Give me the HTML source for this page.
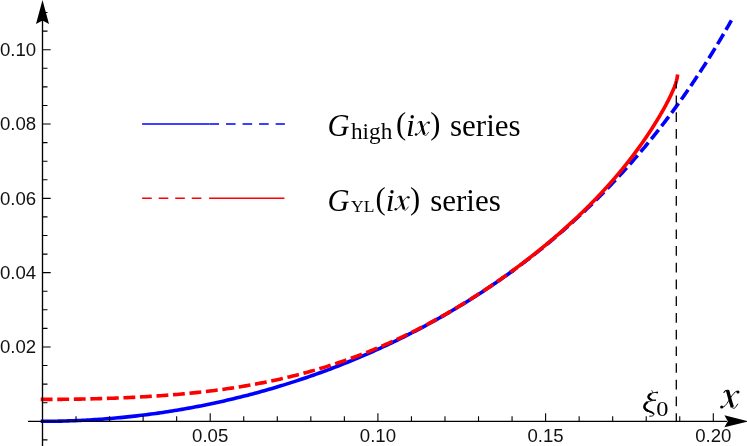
<!DOCTYPE html>
<html><head><meta charset="utf-8"><title>plot</title>
<style>
html,body{margin:0;padding:0;background:#fff;}
body{width:747px;height:446px;overflow:hidden;}
svg{display:block;will-change:transform;}
.tl text{font-family:"Liberation Sans",sans-serif;font-size:18.6px;fill:#111;}
.lg{font-family:"Liberation Serif",serif;fill:#000;}
.it{font-style:italic;}
</style></head><body>
<svg width="747" height="446" viewBox="0 0 747 446">
<rect width="747" height="446" fill="#fff"/>
<g fill="none" stroke-width="3.6" stroke-linecap="square" stroke-linejoin="round">
<path d="M42.50,421.30 L44.86,421.30 L47.22,421.29 L49.58,421.27 L51.94,421.25 L54.30,421.22 L56.66,421.18 L59.02,421.13 L61.38,421.08 L63.74,421.03 L66.10,420.96 L68.46,420.89 L70.82,420.81 L73.17,420.73 L75.53,420.63 L77.89,420.54 L80.25,420.43 L82.61,420.32 L84.97,420.20 L87.33,420.07 L89.69,419.94 L92.05,419.80 L94.41,419.66 L96.77,419.50 L99.13,419.34 L101.49,419.18 L103.85,419.00 L106.21,418.82 L108.57,418.63 L110.93,418.44 L113.29,418.24 L115.65,418.03 L118.01,417.82 L120.37,417.60 L122.73,417.37 L125.09,417.13 L127.45,416.89 L129.81,416.64 L132.16,416.38 L134.52,416.12 L136.88,415.85 L139.24,415.57 L141.60,415.29 L143.96,415.00 L146.32,414.70 L148.68,414.40 L151.04,414.08 L153.40,413.77 L155.76,413.44 L158.12,413.11 L160.48,412.77 L162.84,412.42 L165.20,412.07 L167.56,411.71 L169.92,411.34 L172.28,410.96 L174.64,410.58 L177.00,410.19 L179.36,409.80 L181.72,409.39 L184.08,408.98 L186.44,408.56 L188.80,408.14 L191.15,407.71 L193.51,407.27 L195.87,406.82 L198.23,406.37 L200.59,405.91 L202.95,405.44 L205.31,404.97 L207.67,404.48 L210.03,403.99 L212.39,403.50 L214.75,402.99 L217.11,402.48 L219.47,401.96 L221.83,401.44 L224.19,400.90 L226.55,400.36 L228.91,399.81 L231.27,399.26 L233.63,398.69 L235.99,398.12 L238.35,397.55 L240.71,396.96 L243.07,396.37 L245.43,395.77 L247.79,395.16 L250.14,394.54 L252.50,393.92 L254.86,393.29 L257.22,392.65 L259.58,392.00 L261.94,391.35 L264.30,390.69 L266.66,390.02 L269.02,389.34 L271.38,388.66 L273.74,387.97 L276.10,387.27 L278.46,386.56 L280.82,385.84 L283.18,385.12 L285.54,384.39 L287.90,383.65 L290.26,382.90 L292.62,382.14 L294.98,381.38 L297.34,380.61 L299.70,379.83 L302.06,379.04 L304.42,378.25 L306.77,377.44 L309.13,376.63 L311.49,375.81 L313.85,374.98 L316.21,374.14 L318.57,373.30 L320.93,372.45 L323.29,371.58 L325.65,370.71 L328.01,369.84 L330.37,368.95 L332.73,368.05 L335.09,367.15 L337.45,366.24 L339.81,365.31 L342.17,364.38 L344.53,363.45 L346.89,362.50 L349.25,361.54 L351.61,360.58 L353.97,359.60 L356.33,358.62 L358.69,357.63 L361.05,356.63 L363.41,355.62 L365.76,354.60 L368.12,353.57 L370.48,352.54 L372.84,351.49 L375.20,350.43 L377.56,349.37 L379.92,348.30 L382.28,347.21 L384.64,346.12 L387.00,345.02 L389.36,343.91 L391.72,342.78 L394.08,341.65 L396.44,340.51 L398.80,339.36 L401.16,338.20 L403.52,337.03 L405.88,335.85 L408.24,334.66 L410.60,333.46 L412.96,332.25 L415.32,331.03 L417.68,329.80 L420.04,328.56 L422.40,327.31 L424.75,326.05 L427.11,324.77 L429.47,323.49 L431.83,322.20 L434.19,320.89 L436.55,319.58 L438.91,318.25 L441.27,316.91 L443.63,315.57 L445.99,314.21 L448.35,312.84 L450.71,311.46 L453.07,310.06 L455.43,308.66 L457.79,307.24 L460.15,305.81 L462.51,304.38 L464.87,302.92 L467.23,301.46 L469.59,299.99 L471.95,298.50 L474.31,297.00 L476.67,295.49 L479.03,293.97 L481.39,292.43 L483.74,290.88 L486.10,289.32 L488.46,287.74 L490.82,286.16 L493.18,284.56 L495.54,282.94 L497.90,281.32 L500.26,279.68 L502.62,278.02 L504.98,276.35 L507.34,274.67 L509.70,272.98 L512.06,271.27" stroke="#0000ff"/>
<path d="M512.06,271.27 L513.16,270.47 L514.26,269.67 L515.35,268.86 L516.45,268.05 L517.55,267.24 L518.65,266.42 L519.74,265.60 L520.84,264.78 L521.94,263.96 L523.04,263.13 L524.13,262.30 L525.23,261.46 L526.33,260.62 L527.43,259.78 L528.53,258.94 L529.62,258.09 L530.72,257.24 L531.82,256.39 L532.92,255.53 L534.01,254.67 L535.11,253.80 L536.21,252.94 L537.31,252.06 L538.41,251.19 L539.50,250.31 L540.60,249.43 L541.70,248.55 L542.80,247.66 L543.89,246.76 L544.99,245.87 L546.09,244.97 L547.19,244.07 L548.28,243.16 L549.38,242.25 L550.48,241.34 L551.58,240.42 L552.68,239.50 L553.77,238.58 L554.87,237.65 L555.97,236.72 L557.07,235.78 L558.16,234.84 L559.26,233.90 L560.36,232.95 L561.46,232.00 L562.56,231.05 L563.65,230.09 L564.75,229.13 L565.85,228.16 L566.95,227.19 L568.04,226.22 L569.14,225.24 L570.24,224.26 L571.34,223.27 L572.43,222.29 L573.53,221.29 L574.63,220.29 L575.73,219.29 L576.83,218.29 L577.92,217.28 L579.02,216.26 L580.12,215.24 L581.22,214.22 L582.31,213.19 L583.41,212.16 L584.51,211.13 L585.61,210.09 L586.70,209.04 L587.80,208.00 L588.90,206.94 L590.00,205.89 L591.10,204.83 L592.19,203.76 L593.29,202.69 L594.39,201.61 L595.49,200.53 L596.58,199.45 L597.68,198.36 L598.78,197.27 L599.88,196.17 L600.98,195.07 L602.07,193.96 L603.17,192.85 L604.27,191.73 L605.37,190.61 L606.46,189.49 L607.56,188.36 L608.66,187.22 L609.76,186.08 L610.85,184.93 L611.95,183.78 L613.05,182.63 L614.15,181.47 L615.25,180.30 L616.34,179.13 L617.44,177.95 L618.54,176.77 L619.64,175.59 L620.73,174.40 L621.83,173.20 L622.93,172.00 L624.03,170.79 L625.13,169.58 L626.22,168.36 L627.32,167.14 L628.42,165.91 L629.52,164.68 L630.61,163.44 L631.71,162.19 L632.81,160.94 L633.91,159.68 L635.00,158.42 L636.10,157.15 L637.20,155.88 L638.30,154.60 L639.40,153.32 L640.49,152.03 L641.59,150.73 L642.69,149.43 L643.79,148.12 L644.88,146.80 L645.98,145.48 L647.08,144.16 L648.18,142.82 L649.27,141.49 L650.37,140.14 L651.47,138.79 L652.57,137.43 L653.67,136.07 L654.76,134.70 L655.86,133.32 L656.96,131.94 L658.06,130.55 L659.15,129.15 L660.25,127.75 L661.35,126.34 L662.45,124.92 L663.55,123.50 L664.64,122.07 L665.74,120.64 L666.84,119.19 L667.94,117.74 L669.03,116.29 L670.13,114.82 L671.23,113.35 L672.33,111.87 L673.42,110.39 L674.52,108.90 L675.62,107.40 L676.72,105.89 L677.82,104.37 L678.91,102.85 L680.01,101.32 L681.11,99.79 L682.21,98.24 L683.30,96.69 L684.40,95.13 L685.50,93.56 L686.60,91.99 L687.69,90.41 L688.79,88.82 L689.89,87.22 L690.99,85.61 L692.09,84.00 L693.18,82.37 L694.28,80.74 L695.38,79.10 L696.48,77.45 L697.57,75.80 L698.67,74.13 L699.77,72.46 L700.87,70.78 L701.97,69.09 L703.06,67.39 L704.16,65.69 L705.26,63.97 L706.36,62.24 L707.45,60.51 L708.55,58.77 L709.65,57.02 L710.75,55.26 L711.84,53.49 L712.94,51.71 L714.04,49.92 L715.14,48.12 L716.24,46.31 L717.33,44.50 L718.43,42.67 L719.53,40.83 L720.63,38.99 L721.72,37.13 L722.82,35.27 L723.92,33.39 L725.02,31.50 L726.12,29.61 L727.21,27.70 L728.31,25.79 L729.41,23.86 L730.51,21.92" stroke="#0000ff" stroke-dasharray="8.275 8.275" stroke-dashoffset="4.3"/>
<path d="M42.50,399.41 L44.86,399.41 L47.22,399.41 L49.58,399.40 L51.94,399.39 L54.30,399.38 L56.66,399.37 L59.02,399.35 L61.38,399.33 L63.74,399.31 L66.10,399.29 L68.46,399.26 L70.82,399.23 L73.17,399.20 L75.53,399.16 L77.89,399.12 L80.25,399.08 L82.61,399.04 L84.97,398.99 L87.33,398.94 L89.69,398.89 L92.05,398.84 L94.41,398.78 L96.77,398.72 L99.13,398.65 L101.49,398.58 L103.85,398.51 L106.21,398.44 L108.57,398.36 L110.93,398.28 L113.29,398.20 L115.65,398.11 L118.01,398.02 L120.37,397.93 L122.73,397.83 L125.09,397.73 L127.45,397.62 L129.81,397.52 L132.16,397.40 L134.52,397.29 L136.88,397.17 L139.24,397.04 L141.60,396.91 L143.96,396.78 L146.32,396.64 L148.68,396.50 L151.04,396.36 L153.40,396.21 L155.76,396.05 L158.12,395.89 L160.48,395.73 L162.84,395.56 L165.20,395.38 L167.56,395.20 L169.92,395.02 L172.28,394.83 L174.64,394.64 L177.00,394.44 L179.36,394.23 L181.72,394.02 L184.08,393.80 L186.44,393.58 L188.80,393.35 L191.15,393.12 L193.51,392.88 L195.87,392.63 L198.23,392.38 L200.59,392.12 L202.95,391.86 L205.31,391.58 L207.67,391.31 L210.03,391.02 L212.39,390.73 L214.75,390.43 L217.11,390.13 L219.47,389.81 L221.83,389.50 L224.19,389.17 L226.55,388.83 L228.91,388.49 L231.27,388.14 L233.63,387.79 L235.99,387.42 L238.35,387.05 L240.71,386.67 L243.07,386.28 L245.43,385.88 L247.79,385.48 L250.14,385.07 L252.50,384.65 L254.86,384.21 L257.22,383.78 L259.58,383.33 L261.94,382.87 L264.30,382.41 L266.66,381.93 L269.02,381.45 L271.38,380.96 L273.74,380.45 L276.10,379.94 L278.46,379.42 L280.82,378.89 L283.18,378.35 L285.54,377.80 L287.90,377.24 L290.26,376.67 L292.62,376.09 L294.98,375.50 L297.34,374.90 L299.70,374.29 L302.06,373.67 L304.42,373.04 L306.77,372.40 L309.13,371.75 L311.49,371.09 L313.85,370.41 L316.21,369.73 L318.57,369.03 L320.93,368.33 L323.29,367.61 L325.65,366.88 L328.01,366.14 L330.37,365.39 L332.73,364.63 L335.09,363.86 L337.45,363.08 L339.81,362.28 L342.17,361.47 L344.53,360.65 L346.89,359.82 L349.25,358.98 L351.61,358.13 L353.97,357.26 L356.33,356.38 L358.69,355.50 L361.05,354.59 L363.41,353.68 L365.76,352.76 L368.12,351.82 L370.48,350.87 L372.84,349.91 L375.20,348.94 L377.56,347.95 L379.92,346.95 L382.28,345.94 L384.64,344.92 L387.00,343.89 L389.36,342.84 L391.72,341.78 L394.08,340.71 L396.44,339.63 L398.80,338.53 L401.16,337.42 L403.52,336.30 L405.88,335.17 L408.24,334.02 L410.60,332.87 L412.96,331.70 L415.32,330.51 L417.68,329.32 L420.04,328.11 L422.40,326.89 L424.75,325.66 L427.11,324.41 L429.47,323.15 L431.83,321.88 L434.19,320.60 L436.55,319.30 L438.91,317.99 L441.27,316.67 L443.63,315.34 L445.99,313.99 L448.35,312.63 L450.71,311.26 L453.07,309.88 L455.43,308.48 L457.79,307.07 L460.15,305.65 L462.51,304.21 L464.87,302.77 L467.23,301.31 L469.59,299.83 L471.95,298.35 L474.31,296.85 L476.67,295.33 L479.03,293.81 L481.39,292.27 L483.74,290.72 L486.10,289.15 L488.46,287.58 L490.82,285.98 L493.18,284.38 L495.54,282.76 L497.90,281.13 L500.26,279.48 L502.62,277.82 L504.98,276.15 L507.34,274.47 L509.70,272.76 L512.06,271.05" stroke="#ff0000" stroke-dasharray="8.275 8.275"/>
<path d="M512.06,271.05 L512.61,270.64 L513.17,270.24 L513.72,269.83 L514.27,269.43 L514.83,269.02 L515.38,268.61 L515.94,268.20 L516.49,267.79 L517.04,267.38 L517.60,266.97 L518.15,266.56 L518.70,266.14 L519.26,265.73 L519.81,265.31 L520.37,264.90 L520.92,264.48 L521.47,264.06 L522.03,263.64 L522.58,263.23 L523.13,262.81 L523.69,262.38 L524.24,261.96 L524.79,261.54 L525.35,261.12 L525.90,260.69 L526.46,260.27 L527.01,259.84 L527.56,259.42 L528.12,258.99 L528.67,258.56 L529.22,258.13 L529.78,257.70 L530.33,257.27 L530.89,256.84 L531.44,256.40 L531.99,255.97 L532.55,255.54 L533.10,255.10 L533.65,254.66 L534.21,254.23 L534.76,253.79 L535.31,253.35 L535.87,252.91 L536.42,252.47 L536.98,252.03 L537.53,251.58 L538.08,251.14 L538.64,250.70 L539.19,250.25 L539.74,249.81 L540.30,249.36 L540.85,248.91 L541.40,248.46 L541.96,248.01 L542.51,247.56 L543.07,247.11 L543.62,246.65 L544.17,246.20 L544.73,245.75 L545.28,245.29 L545.83,244.83 L546.39,244.38 L546.94,243.92 L547.50,243.46 L548.05,243.00 L548.60,242.53 L549.16,242.07 L549.71,241.61 L550.26,241.14 L550.82,240.68 L551.37,240.21 L551.92,239.74 L552.48,239.27 L553.03,238.80 L553.59,238.33 L554.14,237.86 L554.69,237.39 L555.25,236.91 L555.80,236.44 L556.35,235.96 L556.91,235.48 L557.46,235.01 L558.02,234.53 L558.57,234.05 L559.12,233.56 L559.68,233.08 L560.23,232.60 L560.78,232.11 L561.34,231.63 L561.89,231.14 L562.44,230.65 L563.00,230.16 L563.55,229.67 L564.11,229.18 L564.66,228.68 L565.21,228.19 L565.77,227.69 L566.32,227.20 L566.87,226.70 L567.43,226.20 L567.98,225.70 L568.54,225.20 L569.09,224.70 L569.64,224.19 L570.20,223.69 L570.75,223.18 L571.30,222.67 L571.86,222.16 L572.41,221.65 L572.96,221.14 L573.52,220.63 L574.07,220.12 L574.63,219.60 L575.18,219.08 L575.73,218.57 L576.29,218.05 L576.84,217.53 L577.39,217.00 L577.95,216.48 L578.50,215.96 L579.06,215.43 L579.61,214.90 L580.16,214.37 L580.72,213.84 L581.27,213.31 L581.82,212.78 L582.38,212.24 L582.93,211.71 L583.48,211.17 L584.04,210.63 L584.59,210.09 L585.15,209.55 L585.70,209.00 L586.25,208.46 L586.81,207.91 L587.36,207.36 L587.91,206.81 L588.47,206.26 L589.02,205.71 L589.58,205.16 L590.13,204.60 L590.68,204.04 L591.24,203.48 L591.79,202.92 L592.34,202.36 L592.90,201.80 L593.45,201.23 L594.00,200.66 L594.56,200.09 L595.11,199.52 L595.67,198.95 L596.22,198.38 L596.77,197.80 L597.33,197.22 L597.88,196.64 L598.43,196.06 L598.99,195.48 L599.54,194.89 L600.09,194.31 L600.65,193.72 L601.20,193.13 L601.76,192.54 L602.31,191.94 L602.86,191.35 L603.42,190.75 L603.97,190.15 L604.52,189.55 L605.08,188.94 L605.63,188.34 L606.19,187.73 L606.74,187.12 L607.29,186.51 L607.85,185.89 L608.40,185.28 L608.95,184.66 L609.51,184.04 L610.06,183.42 L610.61,182.79 L611.17,182.17 L611.72,181.54 L612.28,180.91 L612.83,180.27 L613.38,179.64 L613.94,179.00 L614.49,178.36 L615.04,177.72 L615.60,177.08 L616.15,176.43 L616.71,175.78 L617.26,175.13 L617.81,174.47 L618.37,173.82 L618.92,173.16 L619.47,172.50 L620.03,171.83 L620.58,171.17 L621.13,170.50 L621.69,169.83 L622.24,169.16 L622.80,168.48 L623.35,167.80 L623.90,167.12 L624.46,166.43 L625.01,165.75 L625.56,165.06 L626.12,164.37 L626.67,163.67 L627.23,162.97 L627.78,162.27 L628.33,161.57 L628.89,160.86 L629.44,160.15 L629.99,159.44 L630.55,158.73 L631.10,158.01 L631.65,157.29 L632.21,156.56 L632.76,155.84 L633.32,155.11 L633.87,154.37 L634.42,153.64 L634.98,152.90 L635.53,152.15 L636.08,151.41 L636.64,150.66 L637.19,149.91 L637.75,149.15 L638.30,148.39 L638.85,147.63 L639.41,146.86 L639.96,146.09 L640.51,145.32 L641.07,144.54 L641.62,143.76 L642.17,142.98 L642.73,142.19 L643.28,141.40 L643.84,140.60 L644.39,139.80 L644.94,139.00 L645.50,138.19 L646.05,137.38 L646.60,136.56 L647.16,135.74 L647.71,134.92 L648.27,134.09 L648.82,133.26 L649.37,132.42 L649.93,131.58 L650.48,130.74 L651.03,129.89 L651.59,129.03 L652.14,128.17 L652.69,127.31 L653.25,126.44 L653.80,125.57 L654.36,124.69 L654.91,123.80 L655.46,122.91 L656.02,122.02 L656.57,121.12 L657.12,120.21 L657.68,119.30 L658.23,118.38 L658.78,117.46 L659.34,116.53 L659.89,115.59 L660.45,114.65 L661.00,113.70 L661.55,112.74 L662.11,111.78 L662.66,110.81 L663.21,109.83 L663.77,108.84 L664.32,107.84 L664.88,106.84 L665.43,105.82 L665.98,104.80 L666.54,103.76 L667.09,102.71 L667.64,101.65 L668.20,100.58 L668.75,99.49 L669.30,98.38 L669.86,97.26 L670.41,96.12 L670.97,94.96 L671.52,93.77 L672.07,92.56 L672.63,91.31 L673.18,90.03 L673.73,88.70 L674.29,87.31 L674.84,85.85 L675.40,84.29 L675.95,82.60 L676.50,80.70 L677.06,78.41 L677.61,74.61" stroke="#ff0000" stroke-linecap="butt"/>
</g>
<!-- legend lines -->
<g fill="none" stroke-width="1.35" stroke-linecap="butt">
<path d="M142.1,124 H209.4" stroke="#0000ff"/>
<path d="M210.1,124 H284.2" stroke="#0000ff" stroke-dasharray="8.275 8.275" stroke-linecap="square"/>
<path d="M142.8,198.2 H208.5" stroke="#ff0000" stroke-dasharray="8.275 8.275" stroke-linecap="square"/>
<path d="M209.1,198.2 H284.4" stroke="#ff0000"/>
</g>
<!-- xi0 dashed line -->
<path d="M676.3,81.3 V421.3" fill="none" stroke="#000" stroke-width="1.3" stroke-dasharray="9.7 7.02" stroke-dashoffset="2.4"/>
<!-- axes -->
<g fill="none" stroke="#000" stroke-width="1.35">
<path d="M28,421.3 H727"/>
<path d="M42.5,446 V20"/>
<path d="M76.04,421.3 v-5 M109.58,421.3 v-5 M143.12,421.3 v-5 M176.66,421.3 v-5 M210.20,421.3 v-8 M243.74,421.3 v-5 M277.28,421.3 v-5 M310.82,421.3 v-5 M344.36,421.3 v-5 M377.90,421.3 v-8 M411.44,421.3 v-5 M444.98,421.3 v-5 M478.52,421.3 v-5 M512.06,421.3 v-5 M545.60,421.3 v-8 M579.14,421.3 v-5 M612.68,421.3 v-5 M646.22,421.3 v-5 M679.76,421.3 v-5 M713.30,421.3 v-8 M42.5,439.88 h5 M42.5,402.72 h5 M42.5,384.14 h5 M42.5,365.56 h5 M42.5,346.98 h8.2 M42.5,328.40 h5 M42.5,309.82 h5 M42.5,291.24 h5 M42.5,272.66 h8.2 M42.5,254.08 h5 M42.5,235.50 h5 M42.5,216.92 h5 M42.5,198.34 h8.2 M42.5,179.76 h5 M42.5,161.18 h5 M42.5,142.60 h5 M42.5,124.02 h8.2 M42.5,105.44 h5 M42.5,86.86 h5 M42.5,68.28 h5 M42.5,49.70 h8.2 M42.5,31.12 h5 M42.5,12.54 h5" stroke-width="1.1"/>
</g>
<polygon points="42.5,0 36,24 42.5,20.6 49,24" fill="#000"/>
<polygon points="748.4,421.3 724.4,415.3 727.8,421.3 724.4,427.3" fill="#000"/>
<g class="tl"><text x="210.2" y="441.8" text-anchor="middle">0.05</text><text x="377.9" y="441.8" text-anchor="middle">0.10</text><text x="545.6" y="441.8" text-anchor="middle">0.15</text><text x="713.3" y="441.8" text-anchor="middle">0.20</text><text x="36.2" y="353.4" text-anchor="end">0.02</text><text x="36.2" y="279.1" text-anchor="end">0.04</text><text x="36.2" y="204.7" text-anchor="end">0.06</text><text x="36.2" y="130.4" text-anchor="end">0.08</text><text x="36.2" y="56.1" text-anchor="end">0.10</text></g>
<g transform="translate(712,382) scale(0.07174)" fill="none" stroke="#000" stroke-linecap="butt">
<path d="M216,116 C236,180 258,285 284,350" stroke-width="47"/>
<path d="M166,146 C178,124 196,112 222,116" stroke-width="15" stroke-linecap="round"/>
<path d="M270,340 C284,372 312,374 328,352 L358,308" stroke-width="13" stroke-linecap="round"/>
<path d="M150,352 C196,336 226,268 260,218 C292,170 318,134 352,126" stroke-width="13"/>
<circle cx="135" cy="349" r="22" fill="#000" stroke="none"/>
<circle cx="362" cy="138" r="21" fill="#000" stroke="none"/>
</g>
<!-- legend text -->
<g class="lg">
<text x="327.5" y="135.8" font-size="30.5" class="it">G</text>
<text x="351" y="139.3" font-size="23.2">high</text>
<text x="396" y="134.4" font-size="30.5">(</text>
<text x="406" y="135.8" font-size="32" class="it">i</text>
<g transform="translate(-149.8,-184.6) scale(0.784)"><g transform="translate(712,382) scale(0.07174)" fill="none" stroke="#000" stroke-linecap="butt">
<path d="M216,116 C236,180 258,285 284,350" stroke-width="47"/>
<path d="M166,146 C178,124 196,112 222,116" stroke-width="15" stroke-linecap="round"/>
<path d="M270,340 C284,372 312,374 328,352 L358,308" stroke-width="13" stroke-linecap="round"/>
<path d="M150,352 C196,336 226,268 260,218 C292,170 318,134 352,126" stroke-width="13"/>
<circle cx="135" cy="349" r="22" fill="#000" stroke="none"/>
<circle cx="362" cy="138" r="21" fill="#000" stroke="none"/>
</g></g>
<text x="430.3" y="134.4" font-size="30.5">)</text>
<text x="450" y="135.8" font-size="31">series</text>
<text x="327.5" y="210.5" font-size="30.5" class="it">G</text>
<text x="351" y="211.8" font-size="17.5">YL</text>
<text x="375.5" y="209.1" font-size="30.5">(</text>
<text x="385.7" y="210.5" font-size="32" class="it">i</text>
<g transform="translate(-170.1,-109.9) scale(0.784)"><g transform="translate(712,382) scale(0.07174)" fill="none" stroke="#000" stroke-linecap="butt">
<path d="M216,116 C236,180 258,285 284,350" stroke-width="47"/>
<path d="M166,146 C178,124 196,112 222,116" stroke-width="15" stroke-linecap="round"/>
<path d="M270,340 C284,372 312,374 328,352 L358,308" stroke-width="13" stroke-linecap="round"/>
<path d="M150,352 C196,336 226,268 260,218 C292,170 318,134 352,126" stroke-width="13"/>
<circle cx="135" cy="349" r="22" fill="#000" stroke="none"/>
<circle cx="362" cy="138" r="21" fill="#000" stroke="none"/>
</g></g>
<text x="410" y="209.1" font-size="30.5">)</text>
<text x="430.2" y="210.5" font-size="31">series</text>
<g transform="translate(636,384) scale(0.08525)" fill="none" stroke="#000" stroke-linecap="round" stroke-linejoin="round">
<path d="M250,100 C210,92 150,112 142,150 C138,182 185,190 230,190" stroke-width="11"/>
<path d="M172,116 C136,134 138,170 178,184" stroke-width="26"/>
<path d="M230,190 C160,192 96,222 92,270 C92,310 150,324 198,340 C222,352 212,382 160,378" stroke-width="11"/>
<path d="M128,216 C88,244 90,290 132,310" stroke-width="28"/>
<path d="M128,308 C160,320 190,328 204,346" stroke-width="22"/>
<path d="M186,76 L196,100" stroke-width="8"/>
<circle cx="248" cy="99" r="11" fill="#000" stroke="none"/>
</g>
<text transform="translate(656.3,416) scale(1.16,1)" font-size="21">0</text>

</g>
</svg>
</body></html>
